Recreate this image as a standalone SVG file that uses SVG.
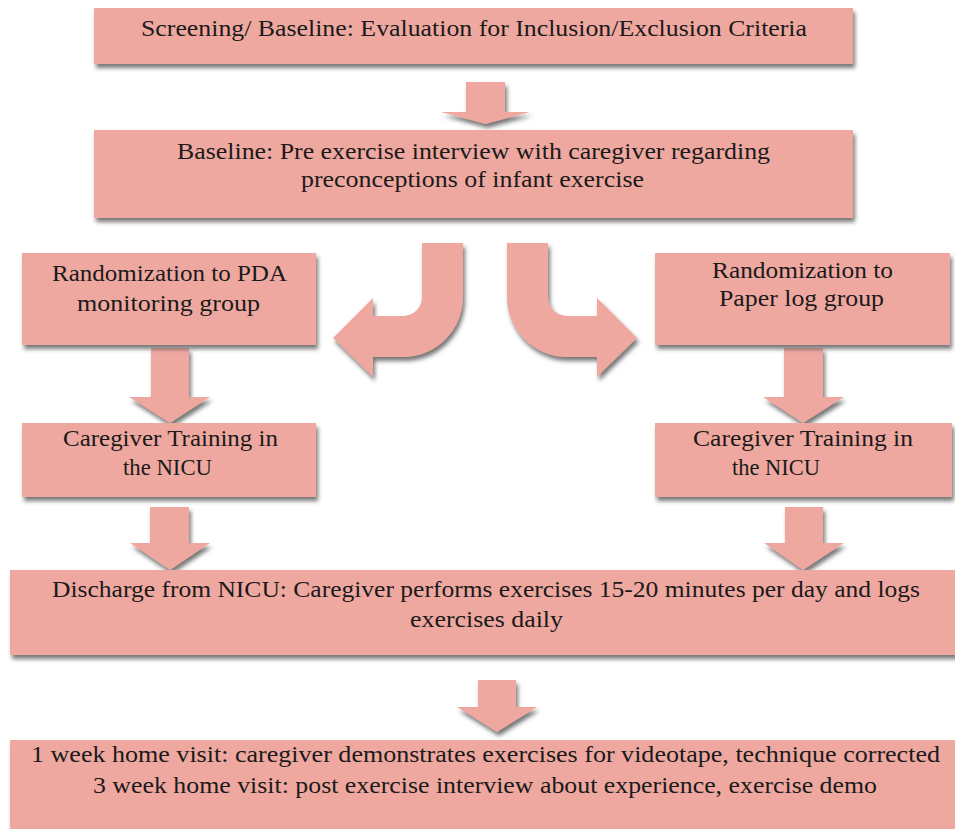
<svg xmlns="http://www.w3.org/2000/svg" width="955" height="829" viewBox="0 0 955 829">
<defs>
<filter id="sh" x="-5%" y="-10%" width="115%" height="130%">
<feDropShadow dx="2" dy="4" stdDeviation="2" flood-color="#4a4a4a" flood-opacity="0.75"/>
</filter>
<style>
.box{fill:#EFA8A0;filter:url(#sh)}
.arr{fill:#EFA8A0;filter:url(#sh)}
text{font-family:"Liberation Serif",serif;font-size:23px;fill:#1a1a1a;text-anchor:middle}
</style>
</defs>
<rect width="955" height="829" fill="#ffffff"/>
<g id="connectors">
<polygon class="arr" points="466,82 505,82 505,112 530,112 485.5,124 441,112 466,112"/>
<path class="arr" d="M422,243 L463,243 L463,297 A60,60 0 0 1 403,357 L373,357 L373,377 L333,338 L373,298 L373,316 L403,316 A19,19 0 0 0 422,297 Z"/>
<path class="arr" d="M548,243 L507,243 L507,297 A60,60 0 0 0 567,357 L597,357 L597,377 L637,338 L597,298 L597,316 L567,316 A19,19 0 0 1 548,297 Z"/>
<polygon class="arr" points="151,348 189,348 189,397 210,397 170,423 129,397 151,397"/>
<polygon class="arr" points="784,348 823,348 823,397 844,397 803,423 763,397 784,397"/>
<polygon class="arr" points="150,507 189,507 189,543 210,543 170,570 130,543 150,543"/>
<polygon class="arr" points="785,507 823,507 823,543 844,543 803,570 764,543 785,543"/>
<polygon class="arr" points="478,680 516,680 516,707 537,707 497,732 457,707 478,707"/>
</g>
<g id="screening">
<rect class="box" x="94" y="8" width="759" height="56"/>
<text x="474" y="36" textLength="666" lengthAdjust="spacingAndGlyphs">Screening/ Baseline: Evaluation for Inclusion/Exclusion Criteria</text>
</g>
<g id="baseline">
<rect class="box" x="94" y="130" width="759" height="88"/>
<text x="473.5" y="159" textLength="593" lengthAdjust="spacingAndGlyphs">Baseline: Pre exercise interview with caregiver regarding</text>
<text x="472.5" y="187" textLength="343" lengthAdjust="spacingAndGlyphs">preconceptions of infant exercise</text>
</g>
<g id="rand-pda">
<rect class="box" x="22" y="253" width="294" height="92"/>
<text x="169.5" y="281" textLength="235" lengthAdjust="spacingAndGlyphs">Randomization to PDA</text>
<text x="168.5" y="311" textLength="183" lengthAdjust="spacingAndGlyphs">monitoring group</text>
</g>
<g id="rand-paper">
<rect class="box" x="655" y="253" width="295" height="92"/>
<text x="802.5" y="278" textLength="181" lengthAdjust="spacingAndGlyphs">Randomization to</text>
<text x="801.5" y="306" textLength="165" lengthAdjust="spacingAndGlyphs">Paper log group</text>
</g>
<g id="training-left">
<rect class="box" x="22" y="423" width="294" height="74"/>
<text x="170.5" y="446" textLength="215" lengthAdjust="spacingAndGlyphs">Caregiver Training in</text>
<text x="167.5" y="475" textLength="89" lengthAdjust="spacingAndGlyphs">the NICU</text>
</g>
<g id="training-right">
<rect class="box" x="655" y="423" width="297" height="74"/>
<text x="803" y="446" textLength="220" lengthAdjust="spacingAndGlyphs">Caregiver Training in</text>
<text x="776" y="475" textLength="88" lengthAdjust="spacingAndGlyphs">the NICU</text>
</g>
<g id="discharge">
<rect class="box" x="10" y="570" width="955" height="85"/>
<text x="486" y="597" textLength="868" lengthAdjust="spacingAndGlyphs">Discharge from NICU: Caregiver performs exercises 15-20 minutes per day and logs</text>
<text x="486.5" y="627" textLength="153" lengthAdjust="spacingAndGlyphs">exercises daily</text>
</g>
<g id="home-visits">
<rect class="box" x="10" y="740" width="955" height="100"/>
<text x="485.5" y="762" textLength="909" lengthAdjust="spacingAndGlyphs">1 week home visit: caregiver demonstrates exercises for videotape, technique corrected</text>
<text x="485" y="793" textLength="784" lengthAdjust="spacingAndGlyphs">3 week home visit: post exercise interview about experience, exercise demo</text>
</g>
</svg>
